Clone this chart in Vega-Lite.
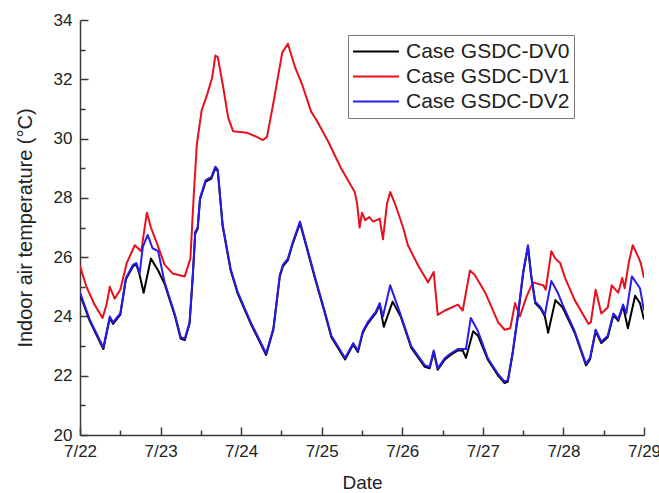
{
  "$schema": "https://vega.github.io/schema/vega-lite/v6.json",
  "autosize": {"type": "none"},
  "padding": {"left": 80, "top": 20, "right": 15, "bottom": 58},
  "width": 564,
  "height": 415,
  "background": "white",
  "config": {
    "view": {"stroke": null},
    "font": "Liberation Sans",
    "axis": {"grid": false, "domainColor": "#3a3a3a", "domainWidth": 1.5, "tickColor": "#3a3a3a", "tickWidth": 1.5, "labelColor": "#222", "titleColor": "#222", "labelFont": "Liberation Sans", "titleFont": "Liberation Sans", "titleFontWeight": "normal"}
  },
  "datasets": {
    "pts": [
      {"s":"Case GSDC-DV0","d":0.00,"t":24.75},{"s":"Case GSDC-DV0","d":0.12,"t":23.85},{"s":"Case GSDC-DV0","d":0.29,"t":22.9},{"s":"Case GSDC-DV0","d":0.37,"t":23.95},{"s":"Case GSDC-DV0","d":0.41,"t":23.75},{"s":"Case GSDC-DV0","d":0.50,"t":24.05},{"s":"Case GSDC-DV0","d":0.57,"t":25.25},{"s":"Case GSDC-DV0","d":0.66,"t":25.7},{"s":"Case GSDC-DV0","d":0.70,"t":25.75},{"s":"Case GSDC-DV0","d":0.74,"t":25.4},{"s":"Case GSDC-DV0","d":0.79,"t":24.8},{"s":"Case GSDC-DV0","d":0.88,"t":25.95},{"s":"Case GSDC-DV0","d":0.97,"t":25.55},{"s":"Case GSDC-DV0","d":1.05,"t":25.1},{"s":"Case GSDC-DV0","d":1.18,"t":24.0},{"s":"Case GSDC-DV0","d":1.25,"t":23.25},{"s":"Case GSDC-DV0","d":1.30,"t":23.2},{"s":"Case GSDC-DV0","d":1.36,"t":23.75},{"s":"Case GSDC-DV0","d":1.40,"t":25.35},{"s":"Case GSDC-DV0","d":1.43,"t":26.8},{"s":"Case GSDC-DV0","d":1.46,"t":26.95},{"s":"Case GSDC-DV0","d":1.49,"t":27.95},{"s":"Case GSDC-DV0","d":1.56,"t":28.55},{"s":"Case GSDC-DV0","d":1.63,"t":28.65},{"s":"Case GSDC-DV0","d":1.68,"t":29.0},{"s":"Case GSDC-DV0","d":1.71,"t":28.9},{"s":"Case GSDC-DV0","d":1.77,"t":27.05},{"s":"Case GSDC-DV0","d":1.87,"t":25.55},{"s":"Case GSDC-DV0","d":1.96,"t":24.75},{"s":"Case GSDC-DV0","d":2.12,"t":23.75},{"s":"Case GSDC-DV0","d":2.31,"t":22.7},{"s":"Case GSDC-DV0","d":2.40,"t":23.55},{"s":"Case GSDC-DV0","d":2.48,"t":25.35},{"s":"Case GSDC-DV0","d":2.52,"t":25.7},{"s":"Case GSDC-DV0","d":2.58,"t":25.9},{"s":"Case GSDC-DV0","d":2.64,"t":26.45},{"s":"Case GSDC-DV0","d":2.73,"t":27.15},{"s":"Case GSDC-DV0","d":2.81,"t":26.35},{"s":"Case GSDC-DV0","d":2.92,"t":25.25},{"s":"Case GSDC-DV0","d":3.04,"t":24.1},{"s":"Case GSDC-DV0","d":3.12,"t":23.3},{"s":"Case GSDC-DV0","d":3.29,"t":22.55},{"s":"Case GSDC-DV0","d":3.39,"t":23.05},{"s":"Case GSDC-DV0","d":3.45,"t":22.8},{"s":"Case GSDC-DV0","d":3.51,"t":23.45},{"s":"Case GSDC-DV0","d":3.57,"t":23.75},{"s":"Case GSDC-DV0","d":3.64,"t":24.0},{"s":"Case GSDC-DV0","d":3.67,"t":24.1},{"s":"Case GSDC-DV0","d":3.72,"t":24.4},{"s":"Case GSDC-DV0","d":3.77,"t":23.65},{"s":"Case GSDC-DV0","d":3.88,"t":24.5},{"s":"Case GSDC-DV0","d":3.98,"t":24.0},{"s":"Case GSDC-DV0","d":4.11,"t":22.95},{"s":"Case GSDC-DV0","d":4.28,"t":22.3},{"s":"Case GSDC-DV0","d":4.34,"t":22.25},{"s":"Case GSDC-DV0","d":4.39,"t":22.8},{"s":"Case GSDC-DV0","d":4.44,"t":22.2},{"s":"Case GSDC-DV0","d":4.53,"t":22.55},{"s":"Case GSDC-DV0","d":4.60,"t":22.7},{"s":"Case GSDC-DV0","d":4.69,"t":22.85},{"s":"Case GSDC-DV0","d":4.75,"t":22.85},{"s":"Case GSDC-DV0","d":4.79,"t":22.6},{"s":"Case GSDC-DV0","d":4.88,"t":23.5},{"s":"Case GSDC-DV0","d":4.94,"t":23.35},{"s":"Case GSDC-DV0","d":5.06,"t":22.55},{"s":"Case GSDC-DV0","d":5.19,"t":22.0},{"s":"Case GSDC-DV0","d":5.27,"t":21.75},{"s":"Case GSDC-DV0","d":5.31,"t":21.8},{"s":"Case GSDC-DV0","d":5.37,"t":22.75},{"s":"Case GSDC-DV0","d":5.44,"t":24.1},{"s":"Case GSDC-DV0","d":5.50,"t":25.45},{"s":"Case GSDC-DV0","d":5.56,"t":26.35},{"s":"Case GSDC-DV0","d":5.60,"t":25.35},{"s":"Case GSDC-DV0","d":5.65,"t":24.45},{"s":"Case GSDC-DV0","d":5.72,"t":24.25},{"s":"Case GSDC-DV0","d":5.77,"t":24.0},{"s":"Case GSDC-DV0","d":5.81,"t":23.45},{"s":"Case GSDC-DV0","d":5.90,"t":24.55},{"s":"Case GSDC-DV0","d":5.99,"t":24.3},{"s":"Case GSDC-DV0","d":6.14,"t":23.45},{"s":"Case GSDC-DV0","d":6.28,"t":22.35},{"s":"Case GSDC-DV0","d":6.33,"t":22.55},{"s":"Case GSDC-DV0","d":6.40,"t":23.5},{"s":"Case GSDC-DV0","d":6.47,"t":23.1},{"s":"Case GSDC-DV0","d":6.55,"t":23.3},{"s":"Case GSDC-DV0","d":6.62,"t":24.05},{"s":"Case GSDC-DV0","d":6.68,"t":23.85},{"s":"Case GSDC-DV0","d":6.74,"t":24.35},{"s":"Case GSDC-DV0","d":6.80,"t":23.6},{"s":"Case GSDC-DV0","d":6.89,"t":24.7},{"s":"Case GSDC-DV0","d":6.95,"t":24.45},{"s":"Case GSDC-DV0","d":7.00,"t":23.9},
      {"s":"Case GSDC-DV1","d":0.00,"t":25.7},{"s":"Case GSDC-DV1","d":0.08,"t":25.0},{"s":"Case GSDC-DV1","d":0.18,"t":24.4},{"s":"Case GSDC-DV1","d":0.28,"t":23.95},{"s":"Case GSDC-DV1","d":0.33,"t":24.4},{"s":"Case GSDC-DV1","d":0.37,"t":25.0},{"s":"Case GSDC-DV1","d":0.43,"t":24.6},{"s":"Case GSDC-DV1","d":0.50,"t":24.9},{"s":"Case GSDC-DV1","d":0.58,"t":25.8},{"s":"Case GSDC-DV1","d":0.68,"t":26.4},{"s":"Case GSDC-DV1","d":0.76,"t":26.2},{"s":"Case GSDC-DV1","d":0.83,"t":27.5},{"s":"Case GSDC-DV1","d":0.88,"t":27.0},{"s":"Case GSDC-DV1","d":0.95,"t":26.5},{"s":"Case GSDC-DV1","d":1.05,"t":25.75},{"s":"Case GSDC-DV1","d":1.15,"t":25.45},{"s":"Case GSDC-DV1","d":1.30,"t":25.35},{"s":"Case GSDC-DV1","d":1.37,"t":25.95},{"s":"Case GSDC-DV1","d":1.41,"t":28.0},{"s":"Case GSDC-DV1","d":1.45,"t":29.8},{"s":"Case GSDC-DV1","d":1.51,"t":30.95},{"s":"Case GSDC-DV1","d":1.58,"t":31.5},{"s":"Case GSDC-DV1","d":1.64,"t":32.05},{"s":"Case GSDC-DV1","d":1.68,"t":32.8},{"s":"Case GSDC-DV1","d":1.71,"t":32.75},{"s":"Case GSDC-DV1","d":1.77,"t":31.85},{"s":"Case GSDC-DV1","d":1.84,"t":30.7},{"s":"Case GSDC-DV1","d":1.90,"t":30.25},{"s":"Case GSDC-DV1","d":2.07,"t":30.2},{"s":"Case GSDC-DV1","d":2.20,"t":30.05},{"s":"Case GSDC-DV1","d":2.27,"t":29.95},{"s":"Case GSDC-DV1","d":2.32,"t":30.05},{"s":"Case GSDC-DV1","d":2.40,"t":31.2},{"s":"Case GSDC-DV1","d":2.51,"t":32.9},{"s":"Case GSDC-DV1","d":2.58,"t":33.2},{"s":"Case GSDC-DV1","d":2.67,"t":32.4},{"s":"Case GSDC-DV1","d":2.76,"t":31.8},{"s":"Case GSDC-DV1","d":2.87,"t":30.9},{"s":"Case GSDC-DV1","d":2.94,"t":30.6},{"s":"Case GSDC-DV1","d":3.08,"t":29.9},{"s":"Case GSDC-DV1","d":3.24,"t":29.0},{"s":"Case GSDC-DV1","d":3.41,"t":28.2},{"s":"Case GSDC-DV1","d":3.44,"t":27.8},{"s":"Case GSDC-DV1","d":3.47,"t":27.0},{"s":"Case GSDC-DV1","d":3.50,"t":27.5},{"s":"Case GSDC-DV1","d":3.54,"t":27.25},{"s":"Case GSDC-DV1","d":3.59,"t":27.35},{"s":"Case GSDC-DV1","d":3.64,"t":27.2},{"s":"Case GSDC-DV1","d":3.72,"t":27.3},{"s":"Case GSDC-DV1","d":3.76,"t":26.6},{"s":"Case GSDC-DV1","d":3.81,"t":27.8},{"s":"Case GSDC-DV1","d":3.85,"t":28.2},{"s":"Case GSDC-DV1","d":3.91,"t":27.8},{"s":"Case GSDC-DV1","d":4.01,"t":27.0},{"s":"Case GSDC-DV1","d":4.07,"t":26.4},{"s":"Case GSDC-DV1","d":4.20,"t":25.7},{"s":"Case GSDC-DV1","d":4.32,"t":25.15},{"s":"Case GSDC-DV1","d":4.39,"t":25.5},{"s":"Case GSDC-DV1","d":4.44,"t":24.05},{"s":"Case GSDC-DV1","d":4.53,"t":24.2},{"s":"Case GSDC-DV1","d":4.69,"t":24.4},{"s":"Case GSDC-DV1","d":4.75,"t":24.2},{"s":"Case GSDC-DV1","d":4.84,"t":25.55},{"s":"Case GSDC-DV1","d":4.90,"t":25.4},{"s":"Case GSDC-DV1","d":5.03,"t":24.8},{"s":"Case GSDC-DV1","d":5.19,"t":23.8},{"s":"Case GSDC-DV1","d":5.27,"t":23.55},{"s":"Case GSDC-DV1","d":5.34,"t":23.6},{"s":"Case GSDC-DV1","d":5.40,"t":24.45},{"s":"Case GSDC-DV1","d":5.46,"t":24.0},{"s":"Case GSDC-DV1","d":5.54,"t":24.65},{"s":"Case GSDC-DV1","d":5.62,"t":25.15},{"s":"Case GSDC-DV1","d":5.75,"t":25.05},{"s":"Case GSDC-DV1","d":5.78,"t":24.9},{"s":"Case GSDC-DV1","d":5.85,"t":26.2},{"s":"Case GSDC-DV1","d":5.90,"t":25.95},{"s":"Case GSDC-DV1","d":5.96,"t":25.8},{"s":"Case GSDC-DV1","d":6.02,"t":25.3},{"s":"Case GSDC-DV1","d":6.14,"t":24.55},{"s":"Case GSDC-DV1","d":6.31,"t":23.75},{"s":"Case GSDC-DV1","d":6.34,"t":23.8},{"s":"Case GSDC-DV1","d":6.40,"t":24.9},{"s":"Case GSDC-DV1","d":6.47,"t":24.1},{"s":"Case GSDC-DV1","d":6.55,"t":24.3},{"s":"Case GSDC-DV1","d":6.60,"t":25.05},{"s":"Case GSDC-DV1","d":6.68,"t":24.8},{"s":"Case GSDC-DV1","d":6.73,"t":25.3},{"s":"Case GSDC-DV1","d":6.76,"t":24.95},{"s":"Case GSDC-DV1","d":6.81,"t":25.8},{"s":"Case GSDC-DV1","d":6.86,"t":26.4},{"s":"Case GSDC-DV1","d":6.93,"t":26.0},{"s":"Case GSDC-DV1","d":6.96,"t":25.8},{"s":"Case GSDC-DV1","d":7.00,"t":25.3},
      {"s":"Case GSDC-DV2","d":0.00,"t":24.8},{"s":"Case GSDC-DV2","d":0.12,"t":23.9},{"s":"Case GSDC-DV2","d":0.29,"t":22.95},{"s":"Case GSDC-DV2","d":0.37,"t":24.0},{"s":"Case GSDC-DV2","d":0.41,"t":23.8},{"s":"Case GSDC-DV2","d":0.50,"t":24.1},{"s":"Case GSDC-DV2","d":0.57,"t":25.3},{"s":"Case GSDC-DV2","d":0.66,"t":25.75},{"s":"Case GSDC-DV2","d":0.70,"t":25.8},{"s":"Case GSDC-DV2","d":0.74,"t":25.45},{"s":"Case GSDC-DV2","d":0.78,"t":26.35},{"s":"Case GSDC-DV2","d":0.84,"t":26.75},{"s":"Case GSDC-DV2","d":0.90,"t":26.3},{"s":"Case GSDC-DV2","d":0.97,"t":26.2},{"s":"Case GSDC-DV2","d":1.05,"t":25.15},{"s":"Case GSDC-DV2","d":1.18,"t":24.05},{"s":"Case GSDC-DV2","d":1.25,"t":23.3},{"s":"Case GSDC-DV2","d":1.30,"t":23.25},{"s":"Case GSDC-DV2","d":1.36,"t":23.8},{"s":"Case GSDC-DV2","d":1.40,"t":25.4},{"s":"Case GSDC-DV2","d":1.43,"t":26.85},{"s":"Case GSDC-DV2","d":1.46,"t":27.0},{"s":"Case GSDC-DV2","d":1.49,"t":28.0},{"s":"Case GSDC-DV2","d":1.56,"t":28.6},{"s":"Case GSDC-DV2","d":1.63,"t":28.7},{"s":"Case GSDC-DV2","d":1.68,"t":29.05},{"s":"Case GSDC-DV2","d":1.71,"t":28.95},{"s":"Case GSDC-DV2","d":1.77,"t":27.1},{"s":"Case GSDC-DV2","d":1.87,"t":25.6},{"s":"Case GSDC-DV2","d":1.96,"t":24.8},{"s":"Case GSDC-DV2","d":2.12,"t":23.8},{"s":"Case GSDC-DV2","d":2.31,"t":22.75},{"s":"Case GSDC-DV2","d":2.40,"t":23.6},{"s":"Case GSDC-DV2","d":2.48,"t":25.4},{"s":"Case GSDC-DV2","d":2.52,"t":25.75},{"s":"Case GSDC-DV2","d":2.58,"t":25.95},{"s":"Case GSDC-DV2","d":2.64,"t":26.5},{"s":"Case GSDC-DV2","d":2.73,"t":27.2},{"s":"Case GSDC-DV2","d":2.81,"t":26.4},{"s":"Case GSDC-DV2","d":2.92,"t":25.3},{"s":"Case GSDC-DV2","d":3.04,"t":24.15},{"s":"Case GSDC-DV2","d":3.12,"t":23.35},{"s":"Case GSDC-DV2","d":3.29,"t":22.6},{"s":"Case GSDC-DV2","d":3.39,"t":23.1},{"s":"Case GSDC-DV2","d":3.45,"t":22.85},{"s":"Case GSDC-DV2","d":3.51,"t":23.5},{"s":"Case GSDC-DV2","d":3.57,"t":23.8},{"s":"Case GSDC-DV2","d":3.64,"t":24.05},{"s":"Case GSDC-DV2","d":3.67,"t":24.15},{"s":"Case GSDC-DV2","d":3.72,"t":24.45},{"s":"Case GSDC-DV2","d":3.76,"t":24.0},{"s":"Case GSDC-DV2","d":3.85,"t":25.05},{"s":"Case GSDC-DV2","d":3.98,"t":24.05},{"s":"Case GSDC-DV2","d":4.11,"t":23.0},{"s":"Case GSDC-DV2","d":4.28,"t":22.35},{"s":"Case GSDC-DV2","d":4.34,"t":22.3},{"s":"Case GSDC-DV2","d":4.39,"t":22.85},{"s":"Case GSDC-DV2","d":4.44,"t":22.25},{"s":"Case GSDC-DV2","d":4.53,"t":22.6},{"s":"Case GSDC-DV2","d":4.60,"t":22.75},{"s":"Case GSDC-DV2","d":4.69,"t":22.9},{"s":"Case GSDC-DV2","d":4.75,"t":22.9},{"s":"Case GSDC-DV2","d":4.79,"t":22.9},{"s":"Case GSDC-DV2","d":4.85,"t":23.95},{"s":"Case GSDC-DV2","d":4.94,"t":23.5},{"s":"Case GSDC-DV2","d":5.06,"t":22.6},{"s":"Case GSDC-DV2","d":5.19,"t":22.05},{"s":"Case GSDC-DV2","d":5.27,"t":21.8},{"s":"Case GSDC-DV2","d":5.31,"t":21.85},{"s":"Case GSDC-DV2","d":5.37,"t":22.8},{"s":"Case GSDC-DV2","d":5.44,"t":24.15},{"s":"Case GSDC-DV2","d":5.50,"t":25.5},{"s":"Case GSDC-DV2","d":5.56,"t":26.4},{"s":"Case GSDC-DV2","d":5.60,"t":25.4},{"s":"Case GSDC-DV2","d":5.65,"t":24.5},{"s":"Case GSDC-DV2","d":5.72,"t":24.3},{"s":"Case GSDC-DV2","d":5.77,"t":24.05},{"s":"Case GSDC-DV2","d":5.81,"t":24.65},{"s":"Case GSDC-DV2","d":5.85,"t":25.2},{"s":"Case GSDC-DV2","d":5.93,"t":24.8},{"s":"Case GSDC-DV2","d":5.99,"t":24.4},{"s":"Case GSDC-DV2","d":6.14,"t":23.5},{"s":"Case GSDC-DV2","d":6.28,"t":22.4},{"s":"Case GSDC-DV2","d":6.33,"t":22.6},{"s":"Case GSDC-DV2","d":6.40,"t":23.55},{"s":"Case GSDC-DV2","d":6.47,"t":23.15},{"s":"Case GSDC-DV2","d":6.55,"t":23.35},{"s":"Case GSDC-DV2","d":6.62,"t":24.1},{"s":"Case GSDC-DV2","d":6.68,"t":23.9},{"s":"Case GSDC-DV2","d":6.74,"t":24.4},{"s":"Case GSDC-DV2","d":6.78,"t":24.1},{"s":"Case GSDC-DV2","d":6.85,"t":25.35},{"s":"Case GSDC-DV2","d":6.95,"t":24.95},{"s":"Case GSDC-DV2","d":7.00,"t":24.2}
    ]
  },
  "data": {"name": "pts"},
  "resolve": {"axis": {"x": "independent", "y": "independent"}},
  "layer": [
    {
      "mark": {"type": "line", "strokeJoin": "round", "clip": true},
      "encoding": {
        "x": {"field": "d", "type": "quantitative", "scale": {"domain": [0, 7], "nice": false},
          "axis": {"orient": "bottom", "values": [0,1,2,3,4,5,6,7], "labelExpr": "'7/' + (22 + datum.value)", "title": "Date", "titleFontSize": 19, "titlePadding": 14, "labelFontSize": 17, "tickSize": -8, "labelPadding": 16, "labelFlush": false}},
        "y": {"field": "t", "type": "quantitative", "scale": {"domain": [20, 34], "nice": false, "zero": false},
          "axis": {"orient": "left", "values": [20,22,24,26,28,30,32,34], "title": "Indoor air temperature (°C)", "titleFontSize": 20, "titlePadding": 18, "labelFontSize": 17, "tickSize": -8, "labelPadding": 16}},
        "color": {"field": "s", "type": "nominal",
          "scale": {"domain": ["Case GSDC-DV0","Case GSDC-DV1","Case GSDC-DV2"], "range": ["#000000","#e8101e","#2a1ce8"]},
          "legend": {"title": null, "orient": "none", "legendX": 268, "legendY": 15, "direction": "vertical", "strokeColor": "#777", "fillColor": "white", "padding": 4, "symbolType": "stroke", "symbolSize": 2116, "symbolStrokeWidth": 2, "labelFontSize": 21, "labelLimit": 400, "labelFont": "Liberation Sans", "labelColor": "#222", "labelOffset": 6, "rowPadding": 0, "clipHeight": 25}},
        "strokeWidth": {"field": "s", "type": "nominal", "scale": {"domain": ["Case GSDC-DV0","Case GSDC-DV1","Case GSDC-DV2"], "range": [2, 2, 2.6]}, "legend": null}
      }
    },
    {
      "mark": {"type": "point", "opacity": 0},
      "encoding": {
        "x": {"field": "d", "type": "quantitative",
          "axis": {"orient": "bottom", "values": [0.5,1.5,2.5,3.5,4.5,5.5,6.5], "labels": false, "domain": false, "title": null, "tickSize": -5}},
        "y": {"field": "t", "type": "quantitative",
          "axis": {"orient": "left", "values": [21,23,25,27,29,31,33], "labels": false, "domain": false, "title": null, "tickSize": -5}}
      }
    }
  ]
}
